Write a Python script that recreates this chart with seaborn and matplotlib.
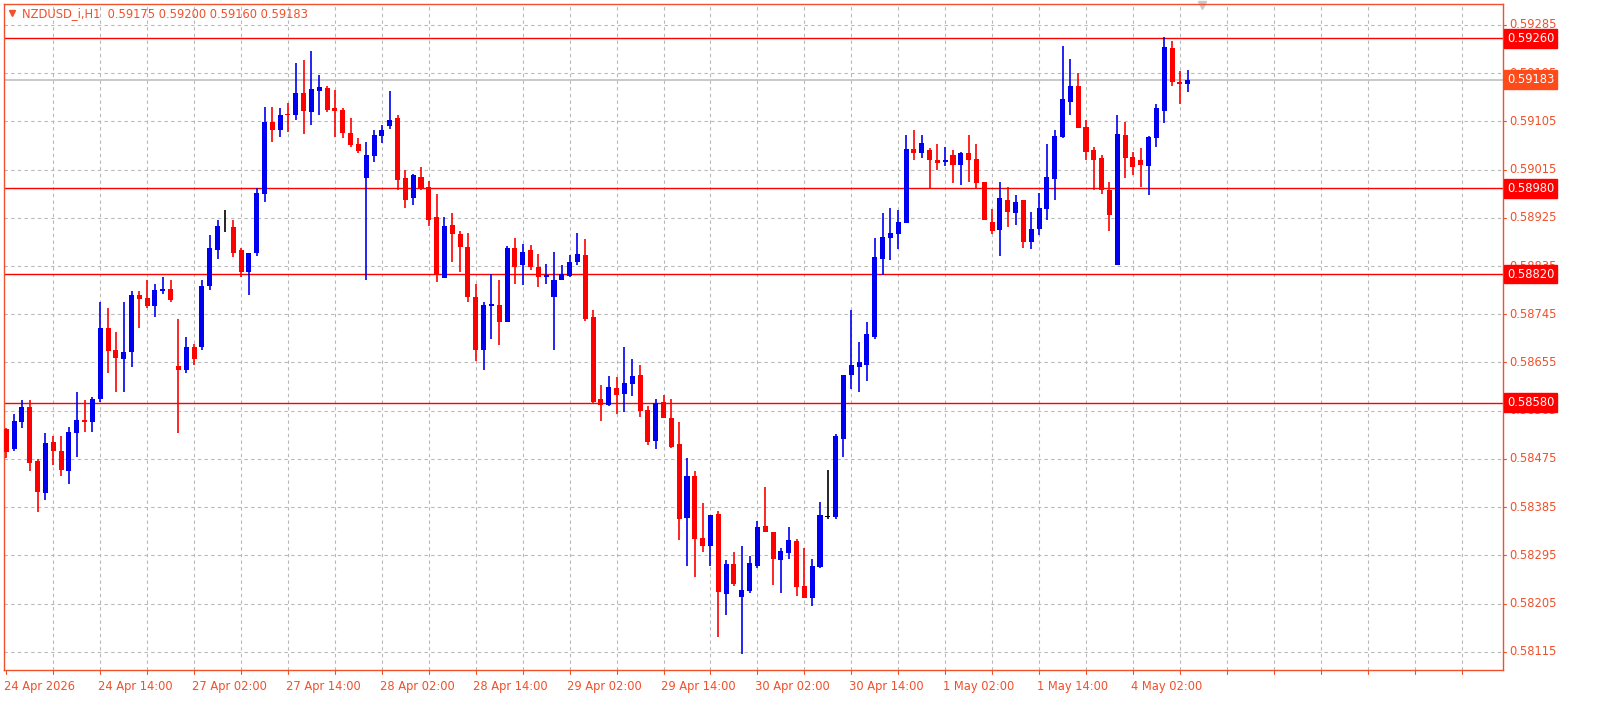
import numpy as np
import pandas as pd
import matplotlib
matplotlib.use("Agg")
import matplotlib.pyplot as plt
import matplotlib.transforms as mtransforms
import seaborn as sns

# OHLC values in 1e-5 units (NZDUSD H1)
opens = [58530,58494,58544,58571,58472,58412,58507,58489,58453,58524,58548,58543,58586,58720,58679,58662,58675,58780,58776,58761,
         58789,58793,58649,58640,58684,58684,58798,58865,58907,58907,58864,58823,58860,58970,59104,59089,59119,59116,59157,59123,
         59162,59168,59130,59127,59084,59063,59000,59041,59078,59097,59112,59000,58961,59002,58983,58927,58813,58912,58895,58871,
         58778,58679,58761,58763,58731,58869,58836,58864,58834,58815,58778,58809,58817,58843,58856,58740,58586,58576,58608,58597,
         58615,58632,58567,58509,58582,58552,58502,58365,58444,58328,58313,58373,58222,58278,58218,58229,58276,58349,58339,58287,
         58300,58322,58237,58216,58274,58367,58367,58513,58632,58647,58651,58703,58849,58888,58895,58916,59054,59045,59052,59032,
         59030,59043,59024,59045,59035,58992,58918,58903,58959,58934,58959,58880,58905,58942,58998,59076,59142,59171,59095,59052,
         59037,58977,58836,59080,59039,59032,59022,59074,59125,59242,59179,59175]
highs = [58533,58559,58584,58584,58475,58524,58518,58518,58535,58599,58584,58591,58767,58757,58711,58768,58789,58789,58808,58802,
         58815,58808,58737,58703,58690,58808,58892,58920,58940,58920,58869,58860,58981,59132,59132,59129,59140,59214,59220,59237,
         59192,59171,59164,59130,59112,59074,59067,59089,59099,59162,59116,59015,59007,59020,58994,58970,58927,58934,58901,58897,
         58802,58768,58821,58808,58873,58888,58877,58875,58858,58839,58862,58837,58856,58897,58886,58753,58612,58630,58628,58683,
         58662,58651,58574,58586,58595,58586,58543,58477,58453,58392,58371,58377,58287,58302,58313,58293,58360,58423,58339,58309,
         58347,58326,58308,58289,58395,58455,58522,58632,58752,58694,58731,58888,58933,58944,58940,59080,59089,59080,59056,59063,
         59058,59052,59048,59080,59063,58992,58942,58992,58983,58968,58959,58936,58972,59063,59088,59246,59222,59196,59108,59058,
         59043,58992,59117,59104,59048,59056,59078,59138,59263,59255,59199,59200]
lows = [58477,58489,58533,58453,58375,58399,58464,58444,58429,58479,58526,58526,58582,58636,58599,58600,58647,58720,58757,58740,
        58783,58768,58524,58636,58651,58679,58791,58849,58899,58852,58815,58781,58854,58955,59067,59076,59086,59108,59082,59099,
        59116,59123,59076,59074,59058,59046,58809,59030,59065,59091,58977,58944,58948,58977,58910,58806,58813,58843,58823,58767,
        58658,58640,58699,58688,58731,58802,58800,58828,58795,58802,58679,58808,58815,58837,58733,58580,58546,58574,58559,58563,
        58593,58554,58500,58494,58552,58496,58324,58276,58255,58302,58276,58143,58184,58237,58110,58224,58272,58339,58239,58224,
        58289,58220,58216,58200,58272,58362,58362,58479,58606,58599,58621,58699,58819,58847,58867,58916,59032,59037,58981,59015,
        59022,58990,58987,58992,58979,58921,58895,58854,58907,58912,58869,58867,58892,58921,58959,59073,59117,59093,59033,58977,
        58970,58901,58836,59000,59004,58983,58968,59058,59102,59171,59138,59160]
closes = [58487,58546,58571,58468,58414,58505,58489,58455,58526,58548,58543,58586,58720,58677,58664,58675,58780,58774,58761,58791,
          58793,58772,58640,58684,58662,58798,58869,58910,58907,58860,58823,58860,58972,59104,59088,59117,59116,59157,59125,59166,
          59170,59127,59125,59084,59061,59050,59043,59080,59089,59108,58996,58959,59004,58981,58921,58819,58910,58895,58871,58778,
          58679,58763,58765,58731,58869,58834,58862,58834,58815,58819,58809,58821,58843,58858,58737,58582,58576,58610,58595,58617,
          58630,58565,58507,58580,58552,58498,58363,58444,58326,58313,58371,58226,58278,58242,58231,58280,58347,58339,58289,58304,
          58324,58235,58216,58276,58371,58367,58517,58632,58651,58655,58709,58852,58890,58897,58918,59054,59045,59065,59033,59028,
          59033,59024,59045,59032,58990,58921,58901,58961,58936,58955,58880,58905,58944,59002,59078,59147,59171,59093,59048,59033,
          58977,58931,59082,59037,59020,59024,59076,59130,59244,59179,59175,59183]

tick_labels = ["24 Apr 2026", "24 Apr 14:00", "27 Apr 02:00", "27 Apr 14:00", "28 Apr 02:00", "28 Apr 14:00",
               "29 Apr 02:00", "29 Apr 14:00", "30 Apr 02:00", "30 Apr 14:00", "1 May 02:00", "1 May 14:00", "4 May 02:00"]
level_lines = [0.59260, 0.58980, 0.58820, 0.58580]
current_price = 0.59183
y_ticks = [0.59285, 0.59195, 0.59105, 0.59015, 0.58925, 0.58835, 0.58745, 0.58655, 0.58565,
           0.58475, 0.58385, 0.58295, 0.58205, 0.58115]

df = pd.DataFrame({"open": opens, "high": highs, "low": lows, "close": closes}) / 1e5
df["bar"] = np.arange(len(df))

sns.set_theme(style="white")
plt.rcParams['font.family'] = ['DejaVu Sans']

W, H = 1601, 713
fig = plt.figure(figsize=(W/100, H/100), dpi=100)
ax = fig.add_axes([4/W, 43/H, 1499/W, 666/H])

ORANGE = "#F0502A"
BLUE = "#0000F0"
RED = "#FF0000"

colors = np.where(df["close"] > df["open"], BLUE, np.where(df["close"] < df["open"], RED, "black"))
ax.vlines(df["bar"], df["low"], df["high"], colors=colors, linewidth=1.2, zorder=3)
bottoms = np.minimum(df["open"], df["close"])
heights = np.maximum(np.abs(df["close"] - df["open"]), 0.000015)
ax.bar(df["bar"], heights, bottom=bottoms, width=0.64, color=colors, linewidth=0, zorder=4)

ax.set_xlim(-0.3, 191.3)
ax.set_ylim(0.58081, 0.59324)

# grid
for gx in range(6, 192, 6):
    ax.axvline(gx, color="#B8B8B8", linestyle=(0, (3, 3)), linewidth=0.8, zorder=1)
for gy in y_ticks:
    ax.axhline(gy, color="#B8B8B8", linestyle=(0, (3, 3)), linewidth=0.8, zorder=1)

ax.axhline(current_price, color="#C0C0C0", linewidth=1.2, zorder=2)
for lv in level_lines:
    ax.axhline(lv, color=RED, linewidth=1.0, zorder=2)

ax.set_xticks([])
ax.set_yticks([])
for s in ax.spines.values():
    s.set_color(ORANGE)
    s.set_linewidth(1.0)

trans_y = mtransforms.blended_transform_factory(ax.transAxes, ax.transData)
for t in y_ticks:
    ax.text(1.0 + 6/1499, t, f"{t:.5f}", transform=trans_y, ha="left", va="center",
            fontsize=8.3, color=ORANGE, clip_on=False)
    ax.plot([1.0, 1.0 + 3/1499], [t, t], transform=trans_y, color=ORANGE, lw=0.8, clip_on=False)

for lv in level_lines:
    ax.text(1.0 + 4/1499, lv, f"{lv:.5f}", transform=trans_y, ha="left", va="center",
            fontsize=8.3, color="white", clip_on=False, zorder=10,
            bbox=dict(boxstyle="square,pad=0.25", fc=RED, ec=RED))
ax.text(1.0 + 4/1499, current_price, f"{current_price:.5f}", transform=trans_y, ha="left", va="center",
        fontsize=8.3, color="white", clip_on=False, zorder=10,
        bbox=dict(boxstyle="square,pad=0.25", fc="#FF4A1A", ec="#FF4A1A"))

trans_x = mtransforms.blended_transform_factory(ax.transData, ax.transAxes)
for k, lab in enumerate(tick_labels):
    bx = 12 * k
    ax.text(bx - 0.3, -10/666, lab, transform=trans_x, ha="left", va="top",
            fontsize=8.3, color=ORANGE, clip_on=False)
for gx in range(0, 192, 6):
    ax.plot([gx, gx], [0, -4/666], transform=trans_x, color=ORANGE, lw=0.8, clip_on=False)

ax.text(18/1499, 1 - 10/666, "NZDUSD_i,H1  0.59175 0.59200 0.59160 0.59183", transform=ax.transAxes,
        ha="left", va="center", fontsize=8.3, color=ORANGE)
ax.plot([8/1499], [1 - 9/666], marker="v", color=ORANGE, markersize=5, transform=ax.transAxes, clip_on=False)
ax.plot([1198/1499], [1 - 1/666], marker="v", color="#C8C8C8", markersize=6, transform=ax.transAxes, clip_on=False)

fig.savefig("out.png", dpi=100, facecolor="white")
